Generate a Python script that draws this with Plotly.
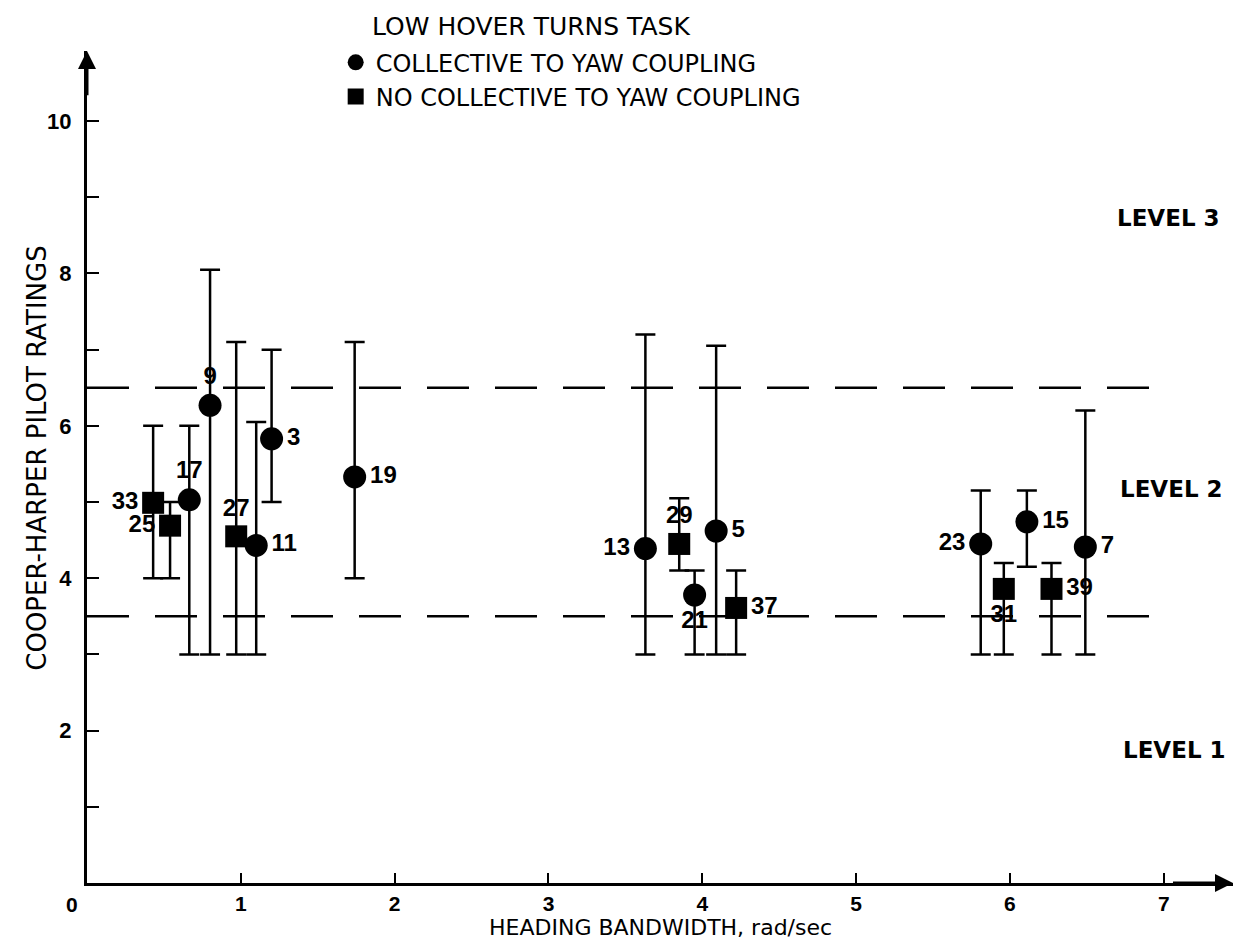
import plotly.graph_objects as go

# ---- data ----
col_ids = ["3", "5", "7", "9", "11", "13", "15", "17", "19", "21", "23"]
col_x = [1.20, 4.09, 6.49, 0.80, 1.10, 3.63, 6.11, 0.665, 1.74, 3.95, 5.81]
col_y = [5.83, 4.62, 4.41, 6.27, 4.43, 4.39, 4.74, 5.03, 5.33, 3.78, 4.45]
col_hi = [7.0, 7.05, 6.2, 8.05, 6.05, 7.2, 5.15, 6.0, 7.1, 4.1, 5.15]
col_lo = [5.0, 3.0, 3.0, 3.0, 3.0, 3.0, 4.15, 3.0, 4.0, 3.0, 3.0]
col_pos = ["middle right", "middle right", "middle right", "top center", "middle right",
           "middle left", "middle right", "top center", "middle right", "bottom center",
           "middle left"]

sq_ids = ["25", "27", "29", "31", "33", "37", "39"]
sq_x = [0.54, 0.97, 3.85, 5.96, 0.43, 4.22, 6.27]
sq_y = [4.69, 4.55, 4.45, 3.86, 4.99, 3.61, 3.86]
sq_hi = [5.0, 7.1, 5.05, 4.2, 6.0, 4.1, 4.2]
sq_lo = [4.0, 3.0, 4.1, 3.0, 4.0, 3.0, 3.0]
sq_pos = ["middle left", "top center", "top center", "bottom center", "middle left",
          "middle right", "middle right"]

level_bounds = [3.5, 6.5]
level_labels = ["LEVEL 1", "LEVEL 2", "LEVEL 3"]
level_label_x = [7.07, 7.05, 7.03]
level_label_y = [1.75, 5.17, 8.73]

x_ticks = [1, 2, 3, 4, 5, 6, 7]
y_ticks = [1, 2, 3, 4, 5, 6, 7, 8, 9, 10]
y_ticktext = ["", "2", "", "4", "", "6", "", "8", "", "10"]

X_MAX = 7.45
Y_MAX = 10.92
DASH_END = 7.05

NUM_FONT = "Liberation Sans"
TXT_FONT = "DejaVu Sans"

fig = go.Figure()

fig.add_trace(go.Scatter(
    x=col_x, y=col_y, mode="markers+text", text=col_ids, textposition=col_pos,
    name="COLLECTIVE TO YAW COUPLING",
    marker=dict(symbol="circle", size=23, color="black"),
    textfont=dict(family=NUM_FONT, size=24, color="black", weight="bold"),
    error_y=dict(type="data", symmetric=False,
                 array=[h - v for h, v in zip(col_hi, col_y)],
                 arrayminus=[v - l for v, l in zip(col_y, col_lo)],
                 color="black", thickness=2.5, width=10),
    cliponaxis=False,
))

fig.add_trace(go.Scatter(
    x=sq_x, y=sq_y, mode="markers+text", text=sq_ids, textposition=sq_pos,
    name="NO COLLECTIVE TO YAW COUPLING",
    marker=dict(symbol="square", size=22, color="black"),
    textfont=dict(family=NUM_FONT, size=24, color="black", weight="bold"),
    error_y=dict(type="data", symmetric=False,
                 array=[h - v for h, v in zip(sq_hi, sq_y)],
                 arrayminus=[v - l for v, l in zip(sq_y, sq_lo)],
                 color="black", thickness=2.5, width=10),
    cliponaxis=False,
))

# level boundary dashed lines
for b in level_bounds:
    fig.add_shape(type="line", x0=0, x1=DASH_END, y0=b, y1=b, xref="x", yref="y",
                  line=dict(color="black", width=2.5, dash="42px,26px"), layer="below")

# level labels
for lab, lx, ly in zip(level_labels, level_label_x, level_label_y):
    fig.add_annotation(x=lx, y=ly, xref="x", yref="y", text=lab, showarrow=False,
                       font=dict(family=TXT_FONT, size=23, color="black", weight="bold"))

# axis arrows
fig.add_annotation(x=0, y=Y_MAX, ax=0, ay=Y_MAX - 0.6, xref="x", yref="y",
                   axref="x", ayref="y", text="", showarrow=True, arrowhead=2,
                   arrowsize=1.2, arrowwidth=3, arrowcolor="black")
fig.add_annotation(x=X_MAX, y=0, ax=X_MAX - 0.4, ay=0, xref="x", yref="y",
                   axref="x", ayref="y", text="", showarrow=True, arrowhead=2,
                   arrowsize=1.2, arrowwidth=3, arrowcolor="black")

# origin label
fig.add_annotation(x=0, y=0, xref="x", yref="y", text="0", showarrow=False,
                   xshift=-15, yshift=-21,
                   font=dict(family=NUM_FONT, size=21, color="black", weight="bold"))

# legend title
fig.add_annotation(x=0.247, y=1.029, xref="paper", yref="paper", yanchor="middle",
                   xanchor="left", text="LOW HOVER TURNS TASK",
                   showarrow=False, font=dict(family=TXT_FONT, size=25, color="black"))

# axis titles
fig.add_annotation(x=0.5, y=0, xref="paper", yref="paper", yanchor="middle",
                   xanchor="center", yshift=-44, text="HEADING BANDWIDTH, rad/sec",
                   showarrow=False, font=dict(family=TXT_FONT, size=22, color="black"))
fig.add_annotation(x=-0.0436, y=0.51, xref="paper", yref="paper", yanchor="middle",
                   xanchor="center", textangle=-90, text="COOPER-HARPER PILOT RATINGS",
                   showarrow=False, font=dict(family=TXT_FONT, size=26, color="black"))

fig.update_layout(
    width=1238, height=941,
    margin=dict(l=87, r=5, t=51, b=58, autoexpand=False),
    paper_bgcolor="white", plot_bgcolor="white",
    showlegend=True,
    legend=dict(x=0.217, y=1.013, xanchor="left", yanchor="top",
                font=dict(family=TXT_FONT, size=24, color="black"),
                bgcolor="rgba(0,0,0,0)", tracegroupgap=0, itemsizing="trace",
                itemwidth=30),
    xaxis=dict(range=[0, X_MAX], showgrid=False, zeroline=False, showline=True,
               linecolor="black", linewidth=3, ticks="inside", ticklen=10,
               tickwidth=2, tickcolor="black", tickvals=x_ticks,
               ticktext=[str(t) for t in x_ticks], ticklabelstandoff=0,
               tickfont=dict(family=NUM_FONT, size=21, color="black", weight="bold"),
               automargin=False),
    yaxis=dict(range=[0, Y_MAX], showgrid=False, zeroline=False, showline=True,
               linecolor="black", linewidth=3, ticks="inside", ticklen=12,
               tickwidth=2, tickcolor="black", tickvals=y_ticks, ticktext=y_ticktext,
               ticklabelstandoff=8,
               tickfont=dict(family=NUM_FONT, size=22, color="black", weight="bold"),
               automargin=False),
    font=dict(family=NUM_FONT, color="black"),
)

fig.write_html("out.html", config={"displayModeBar": False},
               post_script="document.body.style.margin='0';")
